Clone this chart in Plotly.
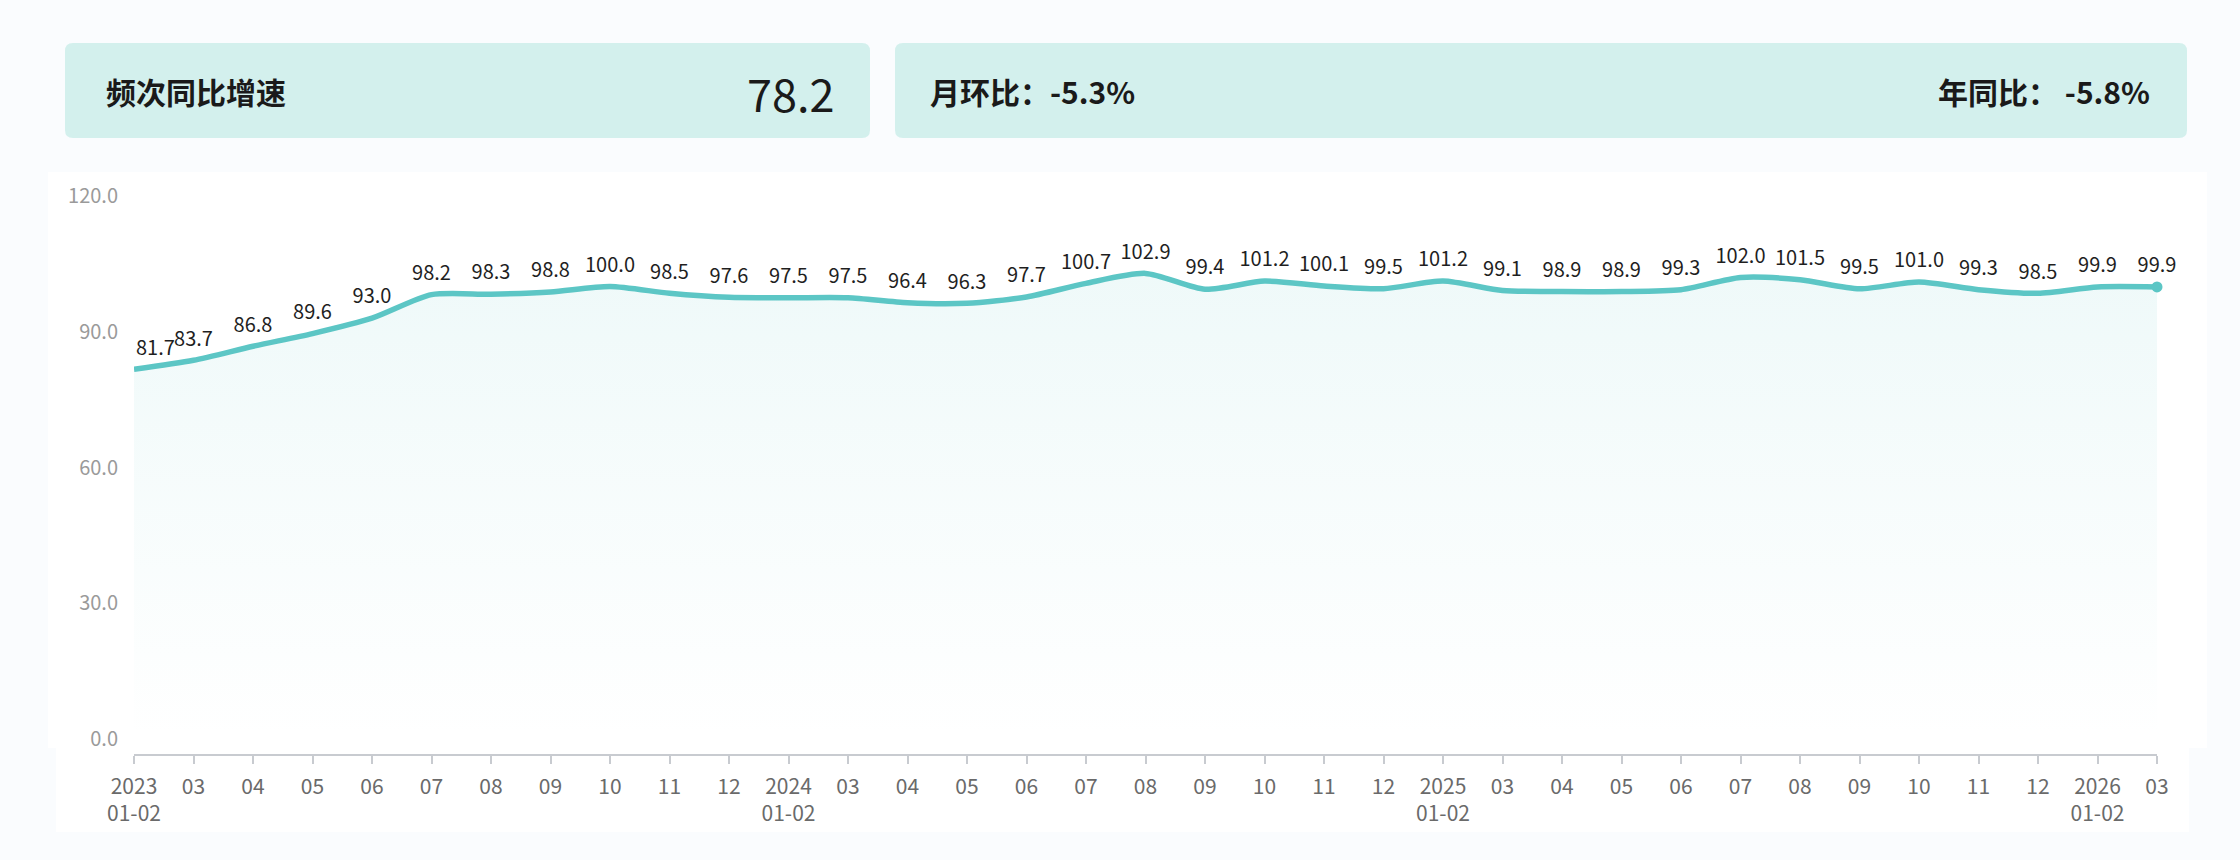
import plotly.graph_objects as go

# ---------------- data ----------------
periods = [
    "2023-01/02", "2023-03", "2023-04", "2023-05", "2023-06", "2023-07", "2023-08",
    "2023-09", "2023-10", "2023-11", "2023-12",
    "2024-01/02", "2024-03", "2024-04", "2024-05", "2024-06", "2024-07", "2024-08",
    "2024-09", "2024-10", "2024-11", "2024-12",
    "2025-01/02", "2025-03", "2025-04", "2025-05", "2025-06", "2025-07", "2025-08",
    "2025-09", "2025-10", "2025-11", "2025-12",
    "2026-01/02", "2026-03",
]
tick_labels = [
    "2023<br>01-02", "03", "04", "05", "06", "07", "08", "09", "10", "11", "12",
    "2024<br>01-02", "03", "04", "05", "06", "07", "08", "09", "10", "11", "12",
    "2025<br>01-02", "03", "04", "05", "06", "07", "08", "09", "10", "11", "12",
    "2026<br>01-02", "03",
]
values = [
    81.7, 83.7, 86.8, 89.6, 93.0, 98.2, 98.3, 98.8, 100.0, 98.5, 97.6,
    97.5, 97.5, 96.4, 96.3, 97.7, 100.7, 102.9, 99.4, 101.2, 100.1, 99.5,
    101.2, 99.1, 98.9, 98.9, 99.3, 102.0, 101.5, 99.5, 101.0, 99.3, 98.5,
    99.9, 99.9,
]
y_ticks = [0, 30, 60, 90, 120]

card_title = "频次同比增速"
card_value = "78.2"
mom_text = "月环比：-5.3%"
yoy_text = "年同比： -5.8%"

# ---------------- layout geometry (pixels) ----------------
W, H = 2240, 860
L, R, T, B = 134, 83, 196, 106
PW, PH = W - L - R, H - T - B

def px(x):
    return (x - L) / PW

def py(y):
    return (H - B - y) / PH

def rounded_rect(x0, y0, x1, y1, r):
    def P(x, y):
        return f"{px(x):.6f},{py(y):.6f}"
    return (
        f"M {P(x0 + r, y0)} L {P(x1 - r, y0)} Q {P(x1, y0)} {P(x1, y0 + r)} "
        f"L {P(x1, y1 - r)} Q {P(x1, y1)} {P(x1 - r, y1)} "
        f"L {P(x0 + r, y1)} Q {P(x0, y1)} {P(x0, y1 - r)} "
        f"L {P(x0, y0 + r)} Q {P(x0, y0)} {P(x0 + r, y0)} Z"
    )

LINE = "#5cc6c5"
CARD = "#d3f0ed"
FONT = "Noto Sans CJK SC"

labels = [f"{v:.1f}" for v in values]
# the first label is drawn as an annotation nudged inside the chart
trace_labels = [""] + labels[1:]

fig = go.Figure()

fig.add_trace(go.Scatter(
    x=periods, y=values,
    mode="lines+markers+text",
    text=trace_labels,
    textposition="top center",
    textfont=dict(family=FONT, size=20, color="#1f1f1f"),
    marker=dict(size=14, opacity=0, color=LINE),
    line=dict(color=LINE, width=5.5, shape="spline", smoothing=0.7),
    fill="tozeroy",
    fillgradient=dict(
        type="vertical",
        colorscale=[[0, "rgba(92,198,197,0.0)"], [1, "rgba(92,198,197,0.10)"]],
    ),
    cliponaxis=False,
    hoverinfo="x+y",
    showlegend=False,
))

fig.add_trace(go.Scatter(
    x=periods[-1:], y=values[-1:],
    mode="markers",
    marker=dict(color=LINE, size=11),
    cliponaxis=False,
    showlegend=False,
    hoverinfo="skip",
))

shapes = [
    dict(type="rect", xref="paper", yref="paper", layer="below",
         x0=px(48), x1=px(2207), y0=py(172), y1=py(748),
         fillcolor="#ffffff", line=dict(width=0)),
    dict(type="rect", xref="paper", yref="paper", layer="below",
         x0=px(56), x1=px(2189), y0=py(748), y1=py(832),
         fillcolor="#ffffff", line=dict(width=0)),
    dict(type="path", xref="paper", yref="paper", layer="below",
         path=rounded_rect(65, 43, 870, 138, 8),
         fillcolor=CARD, line=dict(width=0)),
    dict(type="path", xref="paper", yref="paper", layer="below",
         path=rounded_rect(895, 43, 2187, 138, 8),
         fillcolor=CARD, line=dict(width=0)),
]

annotations = [
    dict(text=labels[0], x=periods[0], y=values[0], xref="x", yref="y",
         xanchor="left", yanchor="bottom", xshift=0, yshift=6, showarrow=False,
         font=dict(family=FONT, size=20, color="#1f1f1f")),
    dict(text=f"<b>{card_title}</b>", x=px(104), y=py(91), xref="paper", yref="paper",
         xanchor="left", yanchor="middle", showarrow=False,
         font=dict(family=FONT, size=30, color="#1a1a1a")),
    dict(text=card_value, x=px(836), y=py(92), xref="paper", yref="paper",
         xanchor="right", yanchor="middle", showarrow=False,
         font=dict(family=FONT, size=45, color="#1a1a1a")),
    dict(text=f"<b>{mom_text}</b>", x=px(928), y=py(91), xref="paper", yref="paper",
         xanchor="left", yanchor="middle", showarrow=False,
         font=dict(family=FONT, size=30, color="#1a1a1a")),
    dict(text=f"<b>{yoy_text}</b>", x=px(2152), y=py(91), xref="paper", yref="paper",
         xanchor="right", yanchor="middle", showarrow=False,
         font=dict(family=FONT, size=30, color="#1a1a1a")),
]

fig.update_layout(
    width=W, height=H,
    margin=dict(l=L, r=R, t=T, b=B, pad=0),
    paper_bgcolor="#fafcfe",
    plot_bgcolor="rgba(0,0,0,0)",
    font=dict(family=FONT),
    shapes=shapes,
    annotations=annotations,
    showlegend=False,
    xaxis=dict(
        type="category",
        categoryorder="array", categoryarray=periods,
        tickvals=periods, ticktext=tick_labels,
        range=[0, len(periods) - 1],
        showgrid=False, zeroline=False,
        showline=True, linecolor="#c8cbd0", linewidth=1.5,
        ticks="outside", ticklen=8, tickcolor="#c8cbd0", tickwidth=1.5,
        tickfont=dict(family=FONT, size=21, color="#6a6a6a"),
        ticklabelstandoff=5,
    ),
    yaxis=dict(
        range=[-3.3, 120],
        tickvals=y_ticks, tickformat=".1f",
        showgrid=False, zeroline=False, showline=False,
        tickfont=dict(family=FONT, size=20, color="#9a9a9a"),
        ticklabelstandoff=15,
    ),
)

fig.write_html("out.html")
